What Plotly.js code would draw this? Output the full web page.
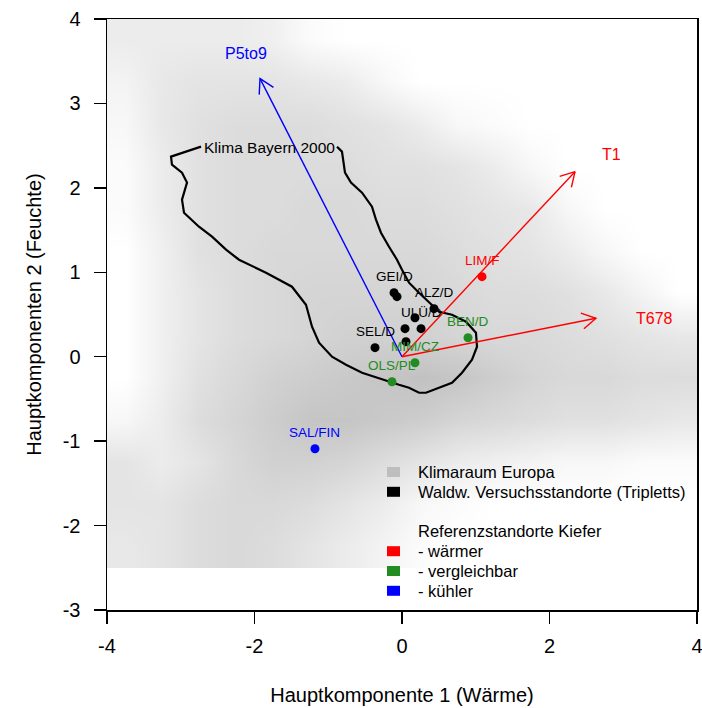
<!DOCTYPE html>
<html>
<head>
<meta charset="utf-8">
<script src="https://cdn.plot.ly/plotly-3.0.1.min.js"></script>
<style>
  html, body { margin: 0; padding: 0; background: #ffffff; }
  #plot { width: 702px; height: 708px; }
</style>
</head>
<body>
<div id="plot"></div>
<script>
// Klimaraum Europa: density of climate cells in PC space (0 = none, 1 = densest)
const densX = [-3.75, -3.25, -2.75, -2.25, -1.75, -1.25, -0.75, -0.25, 0.25, 0.75, 1.25, 1.75, 2.25, 2.75, 3.25, 3.75];
const densY = [-2.25, -1.75, -1.25, -0.75, -0.25, 0.25, 0.75, 1.25, 1.75, 2.25, 2.75, 3.25, 3.75];
const densZ = [
  [0.30, 0.35, 0.45, 0.50, 0.45, 0.35, 0.25, 0.15, 0.05, 0.00, 0.00, 0.00, 0.00, 0.00, 0.00, 0.00],
  [0.35, 0.35, 0.45, 0.50, 0.50, 0.45, 0.35, 0.25, 0.10, 0.05, 0.00, 0.00, 0.00, 0.00, 0.00, 0.00],
  [0.35, 0.25, 0.35, 0.50, 0.60, 0.60, 0.55, 0.45, 0.35, 0.25, 0.20, 0.15, 0.10, 0.10, 0.05, 0.05],
  [0.10, 0.25, 0.45, 0.55, 0.65, 0.75, 0.75, 0.70, 0.65, 0.55, 0.50, 0.45, 0.40, 0.40, 0.35, 0.30],
  [0.00, 0.20, 0.40, 0.50, 0.60, 0.65, 0.70, 0.75, 0.80, 0.75, 0.65, 0.55, 0.50, 0.50, 0.45, 0.45],
  [0.00, 0.20, 0.35, 0.45, 0.50, 0.55, 0.60, 0.60, 0.60, 0.55, 0.50, 0.50, 0.45, 0.40, 0.35, 0.30],
  [0.00, 0.20, 0.35, 0.45, 0.50, 0.55, 0.55, 0.55, 0.55, 0.50, 0.45, 0.45, 0.40, 0.30, 0.15, 0.00],
  [0.00, 0.20, 0.40, 0.45, 0.50, 0.50, 0.50, 0.50, 0.50, 0.45, 0.40, 0.35, 0.25, 0.10, 0.00, 0.00],
  [0.05, 0.25, 0.40, 0.45, 0.45, 0.50, 0.50, 0.45, 0.45, 0.40, 0.35, 0.30, 0.10, 0.00, 0.00, 0.00],
  [0.05, 0.25, 0.40, 0.45, 0.45, 0.45, 0.45, 0.40, 0.40, 0.35, 0.25, 0.10, 0.00, 0.00, 0.00, 0.00],
  [0.10, 0.30, 0.40, 0.45, 0.45, 0.45, 0.40, 0.35, 0.25, 0.10, 0.05, 0.00, 0.00, 0.00, 0.00, 0.00],
  [0.15, 0.30, 0.35, 0.35, 0.35, 0.30, 0.25, 0.10, 0.00, 0.00, 0.00, 0.00, 0.00, 0.00, 0.00, 0.00],
  [0.25, 0.25, 0.25, 0.25, 0.20, 0.05, 0.00, 0.00, 0.00, 0.00, 0.00, 0.00, 0.00, 0.00, 0.00, 0.00]
];

// Outline of the Bavarian climate of 2000 (open where its label sits)
const bayernX = [-0.881, -0.814, -0.773, -0.692, -0.542, -0.407, -0.353, -0.285, -0.176, -0.068, 0.000, 0.095, 0.231, 0.502, 0.678, 0.868, 1.003, 1.017, 0.949, 0.814, 0.678, 0.502, 0.325, 0.231, 0.095, -0.041, -0.176, -0.353, -0.542, -0.759, -0.949, -1.125, -1.220, -1.302, -1.492, -1.844, -2.210, -2.386, -2.576, -2.753, -2.956, -2.983, -2.915, -2.983, -3.119, -3.132, -2.725];
const bayernY = [2.488, 2.429, 2.180, 2.062, 1.943, 1.777, 1.623, 1.469, 1.303, 1.149, 1.031, 0.877, 0.758, 0.533, 0.498, 0.415, 0.284, 0.118, -0.036, -0.190, -0.308, -0.367, -0.427, -0.427, -0.367, -0.332, -0.296, -0.249, -0.190, -0.095, 0.000, 0.166, 0.355, 0.616, 0.829, 0.995, 1.149, 1.268, 1.422, 1.540, 1.706, 1.860, 2.062, 2.180, 2.275, 2.370, 2.488];
const bayernLabel = { text: 'Klima Bayern 2000', x: -1.80, y: 2.476 };

// Variable loadings (arrows from the origin) and their label positions
const loadNames = ['P5to9', 'T1', 'T678'];
const loadX = [-1.925, 2.346, 2.630];
const loadY = [3.294, 2.192, 0.455];
const loadLabelX = [-2.115, 2.834, 3.417];
const loadLabelY = [3.590, 2.393, 0.450];
const loadColors = ['#0000ff', '#ff0000', '#ff0000'];

// Forest research sites (triplets); labelled sites carry a name
const siteX = [-0.108, -0.068, 0.434, 0.176, 0.041, 0.258, -0.366, 0.054];
const siteY = [0.758, 0.711, 0.569, 0.462, 0.332, 0.332, 0.107, 0.178];
const siteNames = ['GEI/D', '', 'ALZ/D', '', '', 'ULÜ/D', 'SEL/D', ''];

// Pine reference sites
const warmX = [1.085];
const warmY = [0.948];
const warmNames = ['LIM/F'];
const compX = [0.895, 0.176, -0.136];
const compY = [0.225, -0.071, -0.296];
const compNames = ['BEN/D', 'MIM/CZ', 'OLS/PL'];
const coolX = [-1.180];
const coolY = [-1.090];
const coolNames = ['SAL/FIN'];

// Axis ticks (plain hyphen minus in the labels)
const xTicks = [-4, -2, 0, 2, 4];
const xTickText = ['-4', '-2', '0', '2', '4'];
const yTicks = [-3, -2, -1, 0, 1, 2, 3, 4];
const yTickText = ['-3', '-2', '-1', '0', '1', '2', '3', '4'];

// Legend entries (null colour = text line without a swatch)
const legendNames = ['Klimaraum Europa', 'Waldw. Versuchsstandorte (Tripletts)', '', 'Referenzstandorte Kiefer', '- wärmer', '- vergleichbar', '- kühler'];
const legendColors = ['#bebebe', '#000000', null, null, '#ff0000', '#228b22', '#0000ff'];

const FONT = 'Liberation Sans, Arial, Helvetica, sans-serif';
const GREEN = '#228b22';

// plot geometry (pixels)
const W = 702, H = 708;
const M = { l: 107, r: 5, t: 19, b: 98 };
const plotW = W - M.l - M.r, plotH = H - M.t - M.b;
const xRange = [-4, 4], yRange = [-3, 4];
const pxX = plotW / (xRange[1] - xRange[0]);
const pxY = plotH / (yRange[1] - yRange[0]);
const paperX = px => (px - M.l) / plotW;
const paperY = py => (plotH - (py - M.t)) / plotH;

const traces = [];

traces.push({
  type: 'heatmap', x: densX, y: densY, z: densZ,
  zmin: 0, zmax: 1, zsmooth: 'best', showscale: false, hoverinfo: 'skip',
  colorscale: [[0, 'rgb(255,255,255)'], [1, 'rgb(178,178,178)']]
});

traces.push({
  type: 'scatter', mode: 'lines', x: bayernX, y: bayernY,
  line: { color: '#000000', width: 2.2 }, showlegend: false, hoverinfo: 'skip'
});

// arrows with open heads, head drawn in screen space (16 px, 30 degrees)
const HEAD = 16, ANG = 30 * Math.PI / 180;
loadNames.forEach((n, i) => {
  const tx = loadX[i], ty = loadY[i];
  const dx = -tx * pxX, dy = -ty * pxY;
  const len = Math.hypot(dx, dy);
  const ux = dx / len, uy = dy / len;
  const barb = s => {
    const c = Math.cos(s * ANG), sn = Math.sin(s * ANG);
    const rx = ux * c - uy * sn, ry = ux * sn + uy * c;
    return [tx + rx * HEAD / pxX, ty + ry * HEAD / pxY];
  };
  const b1 = barb(1), b2 = barb(-1);
  traces.push({
    type: 'scatter', mode: 'lines',
    x: [0, tx, null, b1[0], tx, b2[0]],
    y: [0, ty, null, b1[1], ty, b2[1]],
    line: { color: loadColors[i], width: 1.4 }, showlegend: false, hoverinfo: 'skip'
  });
});

const pts = (x, y, color) => ({
  type: 'scatter', mode: 'markers', x: x, y: y,
  marker: { color: color, size: 9 }, showlegend: false, hoverinfo: 'skip'
});
traces.push(pts(siteX, siteY, '#000000'));
traces.push(pts(warmX, warmY, '#ff0000'));
traces.push(pts(compX, compY, GREEN));
traces.push(pts(coolX, coolY, '#0000ff'));

const annotations = [];
const shapes = [];
const ptLabel = (x, y, t, color) => ({
  x: x, y: y, text: t, showarrow: false, yshift: 16,
  font: { family: FONT, size: 13.5, color: color }
});
siteNames.forEach((t, i) => { if (t) annotations.push(ptLabel(siteX[i], siteY[i], t, '#000000')); });
warmNames.forEach((t, i) => annotations.push(ptLabel(warmX[i], warmY[i], t, '#ff0000')));
compNames.forEach((t, i) => annotations.push(ptLabel(compX[i], compY[i], t, GREEN)));
coolNames.forEach((t, i) => annotations.push(ptLabel(coolX[i], coolY[i], t, '#0000ff')));
loadNames.forEach((t, i) => annotations.push({
  x: loadLabelX[i], y: loadLabelY[i], text: t, showarrow: false,
  font: { family: FONT, size: 16, color: loadColors[i] }
}));
annotations.push({
  x: bayernLabel.x, y: bayernLabel.y, text: bayernLabel.text, showarrow: false,
  font: { family: FONT, size: 15.5, color: '#000000' }
});

// legend block in the lower right
const LEG_TOP = 472, LEG_STEP = 19.8, LEG_TEXT_X = 416, LEG_BOX_X0 = 387, LEG_BOX_W = 13, LEG_BOX_H = 10;
legendNames.forEach((t, i) => {
  const cy = LEG_TOP + i * LEG_STEP;
  if (t) annotations.push({
    xref: 'paper', yref: 'paper', x: paperX(LEG_TEXT_X), y: paperY(cy),
    xanchor: 'left', yanchor: 'middle', text: t, showarrow: false,
    font: { family: FONT, size: 16.5, color: '#000000' }
  });
  if (legendColors[i]) shapes.push({
    type: 'rect', xref: 'paper', yref: 'paper', layer: 'above',
    x0: paperX(LEG_BOX_X0), x1: paperX(LEG_BOX_X0 + LEG_BOX_W),
    y0: paperY(cy + LEG_BOX_H / 2), y1: paperY(cy - LEG_BOX_H / 2),
    fillcolor: legendColors[i], line: { width: 0 }
  });
});

const axisCommon = {
  ticks: 'outside', ticklen: 12, tickwidth: 1.5, tickcolor: '#000000',
  showline: true, linecolor: '#000000', linewidth: 1.5, mirror: true,
  showgrid: false, zeroline: false, fixedrange: true, ticklabeloverflow: 'allow',
  tickfont: { family: FONT, size: 20, color: '#000000' }
};

const layout = {
  width: W, height: H,
  margin: M,
  paper_bgcolor: '#ffffff', plot_bgcolor: '#ffffff',
  showlegend: false,
  xaxis: Object.assign({}, axisCommon, {
    range: xRange, tickvals: xTicks, ticktext: xTickText, ticklabelstandoff: 5,
    title: { text: 'Hauptkomponente 1 (Wärme)', standoff: 32, font: { family: FONT, size: 20, color: '#000000' } }
  }),
  yaxis: Object.assign({}, axisCommon, {
    range: yRange, tickvals: yTicks, ticktext: yTickText, ticklabelstandoff: 9,
    title: { text: 'Hauptkomponenten 2 (Feuchte)', standoff: 15, font: { family: FONT, size: 20, color: '#000000' } }
  }),
  annotations: annotations,
  shapes: shapes
};

Plotly.newPlot('plot', traces, layout, { staticPlot: true, displayModeBar: false });
</script>
</body>
</html>
